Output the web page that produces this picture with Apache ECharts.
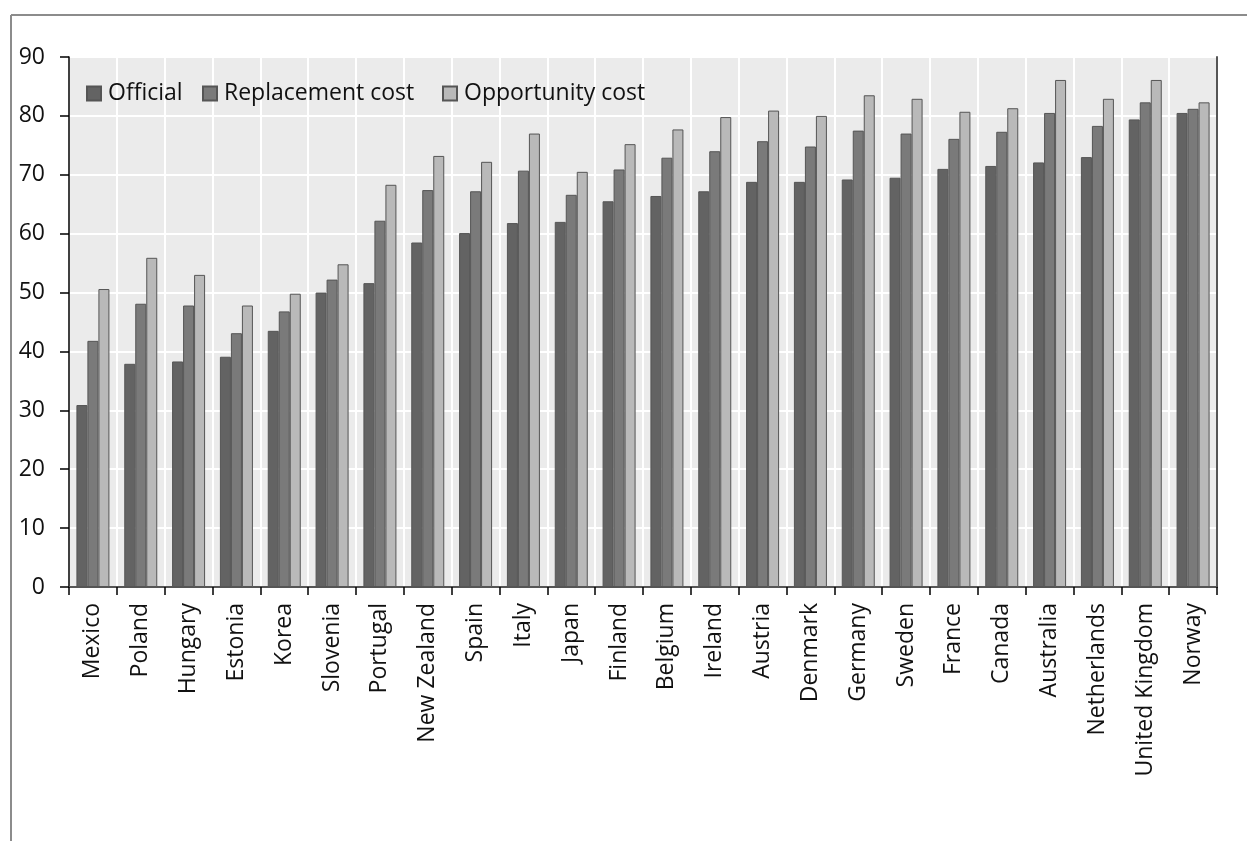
<!DOCTYPE html>
<html>
<head>
<meta charset="utf-8">
<script src="https://cdn.jsdelivr.net/npm/echarts@6/dist/echarts.min.js"></script>
<style>
html,body{margin:0;padding:0;background:#fff;}
#chart{width:1247px;height:841px;}
</style>
</head>
<body>
<div id="chart"></div>
<script>
const categories = ["Mexico","Poland","Hungary","Estonia","Korea","Slovenia","Portugal","New Zealand","Spain","Italy","Japan","Finland","Belgium","Ireland","Austria","Denmark","Germany","Sweden","France","Canada","Australia","Netherlands","United Kingdom","Norway"];
const official = [30.9,37.9,38.3,39.1,43.5,50.0,51.6,58.5,60.1,61.8,62.0,65.5,66.4,67.2,68.8,68.8,69.2,69.5,71.0,71.5,72.1,73.0,79.4,80.5];
const replacement = [41.8,48.1,47.8,43.1,46.8,52.2,62.2,67.4,67.2,70.7,66.6,70.9,72.9,74.0,75.7,74.8,77.5,77.0,76.1,77.3,80.5,78.3,82.3,81.2];
const opportunity = [50.6,55.9,53.0,47.8,49.8,54.8,68.3,73.2,72.2,77.0,70.5,75.2,77.7,79.8,80.9,80.0,83.5,82.9,80.7,81.3,86.1,82.9,86.1,82.3];
const seriesNames = ["Official","Replacement cost","Opportunity cost"];
const yTicks = [0,10,20,30,40,50,60,70,80,90];

const FONT = "Open Sans";
const chart = echarts.init(document.getElementById('chart'), null, {renderer:'canvas'});
const colors = ['#636363','#7a7a7a','#b9b9b9'];
function legendFor(name, left){
  return {
    data:[name], left:left, top:82, padding:0, itemWidth:14, itemHeight:14,
    icon:'rect', selectedMode:false,
    textStyle:{fontFamily:FONT, fontSize:23, color:'#111', padding:[0,0,0,2]}
  };
}
const data = [official, replacement, opportunity];
chart.setOption({
  animation:false,
  backgroundColor:'#fff',
  graphic:[
    {type:'line', shape:{x1:11,y1:15,x2:1247,y2:15}, style:{stroke:'#8c8c8c', lineWidth:2}},
    {type:'line', shape:{x1:11,y1:15,x2:11,y2:841}, style:{stroke:'#8c8c8c', lineWidth:2}}
  ],
  legend:[legendFor(seriesNames[0],86), legendFor(seriesNames[1],202), legendFor(seriesNames[2],442)],
  grid:{left:69, right:30, top:57, bottom:254, show:true, backgroundColor:'#ebebeb', borderColor:'#555', borderWidth:0},
  xAxis:[{
    type:'category', data:categories,
    axisLine:{lineStyle:{color:'#000', width:1.5}},
    axisTick:{show:true, length:8, lineStyle:{color:'#000', width:1.5}},
    splitLine:{show:true, interval:0, lineStyle:{color:'#fff', width:2}},
    axisLabel:{interval:0, rotate:90, margin:16, fontFamily:FONT, fontSize:23, color:'#111'}
  },{
    type:'category', data:categories, position:'top',
    axisLine:{show:true, lineStyle:{color:'#555', width:2}},
    axisTick:{show:false}, axisLabel:{show:false}, splitLine:{show:false}
  }],
  yAxis:[{
    type:'value', min:0, max:90, interval:10,
    axisLine:{show:true, lineStyle:{color:'#000', width:1.5}},
    axisTick:{show:true, length:9, lineStyle:{color:'#000', width:1.5}},
    splitLine:{show:true, lineStyle:{color:'#fff', width:2}},
    axisLabel:{margin:24, fontFamily:FONT, fontSize:23, color:'#111',
      formatter:function(v){ return yTicks.indexOf(v)>=0 ? String(v) : ''; }}
  },{
    type:'value', min:0, max:90, interval:10, position:'right',
    axisLine:{show:true, lineStyle:{color:'#555', width:2}},
    axisTick:{show:false}, axisLabel:{show:false}, splitLine:{show:false}
  }],
  series: seriesNames.map(function(n,i){
    return {
      name:n, type:'bar', data:data[i], barWidth:11, barGap:'0%',
      itemStyle:{color:colors[i], borderColor:'#555', borderWidth:1}
    };
  })
});
</script>
</body>
</html>
